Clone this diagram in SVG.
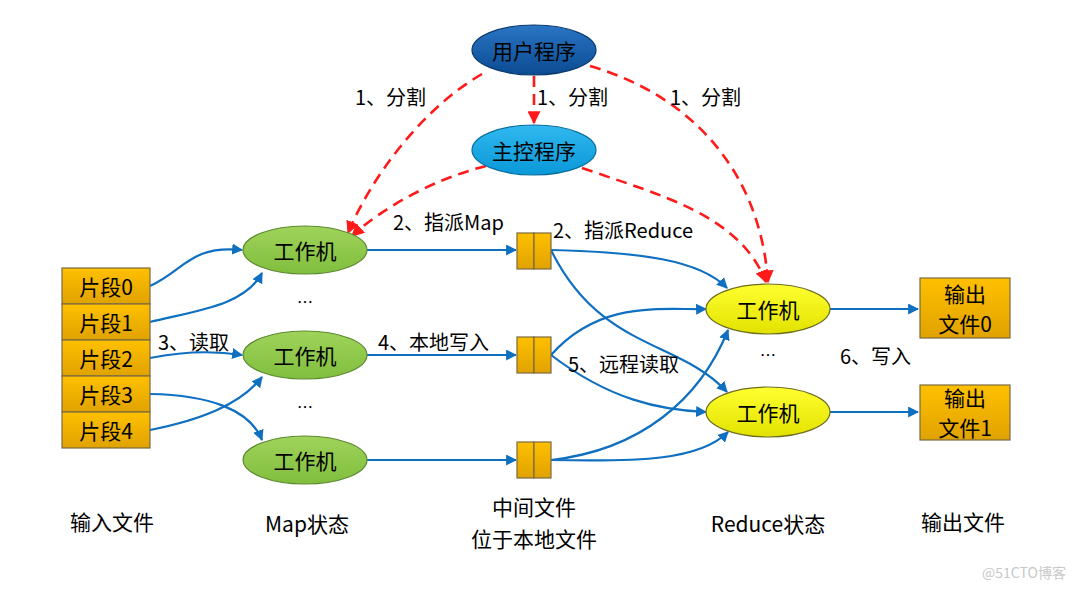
<svg xmlns="http://www.w3.org/2000/svg" width="1082" height="590" viewBox="0 0 1082 590">
<style>
text{font-family:"Noto Sans CJK SC","Liberation Sans",sans-serif;fill:#000}
.n{font-size:21px;text-anchor:middle;dominant-baseline:central}
.l{font-size:20px}
.c{font-size:21px;text-anchor:middle}
.d{font-size:16px;text-anchor:middle}
.box{fill:url(#gOr);stroke:#7a6a40;stroke-width:1.2}
.blue{fill:none;stroke:#0f6fc0;stroke-width:2.2;marker-end:url(#aB)}
.red{fill:none;stroke:#ff1a1a;stroke-width:2.6;stroke-dasharray:11 7;marker-end:url(#aR)}
</style>
<defs>
<linearGradient id="gOr" x1="0" y1="0" x2="0" y2="1"><stop offset="0" stop-color="#ffc000"/><stop offset="1" stop-color="#e0a200"/></linearGradient>
<linearGradient id="gGr" x1="0" y1="0" x2="0" y2="1"><stop offset="0" stop-color="#9fd35a"/><stop offset="1" stop-color="#80be3e"/></linearGradient>
<linearGradient id="gYe" x1="0" y1="0" x2="0" y2="1"><stop offset="0" stop-color="#ffff30"/><stop offset="1" stop-color="#e2e200"/></linearGradient>
<linearGradient id="gDb" x1="0" y1="0" x2="0" y2="1"><stop offset="0" stop-color="#2a75c4"/><stop offset="1" stop-color="#0b4b92"/></linearGradient>
<linearGradient id="gLb" x1="0" y1="0" x2="0" y2="1"><stop offset="0" stop-color="#30b8ef"/><stop offset="1" stop-color="#0a98d8"/></linearGradient>
<marker id="aB" viewBox="0 0 10 10" refX="9" refY="5" markerWidth="5" markerHeight="5" orient="auto-start-reverse" markerUnits="strokeWidth"><path d="M0,0 L10,5 L0,10 z" fill="#0f6fc0"/></marker>
<marker id="aR" viewBox="0 0 10 10" refX="9" refY="5" markerWidth="5" markerHeight="5" orient="auto" markerUnits="strokeWidth"><path d="M0,0 L10,5 L0,10 z" fill="#ff1a1a"/></marker>
</defs>

<g id="connectors">
<path class="red" d="M482,74 C420,110 370,180 348,233"/>
<path class="red" d="M534,76 L534,123"/>
<path class="red" d="M590,66 C690,95 760,170 768,282"/>
<path class="red" d="M486,166 C430,180 380,210 352,236"/>
<path class="red" d="M582,168 C660,195 740,215 766,282"/>
<path class="blue" d="M150,286 C185,270 190,245 242,250"/>
<path class="blue" d="M150,322 C200,310 245,305 262,273"/>
<path class="blue" d="M150,358 C180,352 210,350 242,355"/>
<path class="blue" d="M150,394 C210,395 250,410 262,440"/>
<path class="blue" d="M150,430 C200,420 240,405 262,377"/>
<path class="blue" d="M367,250 L516,250"/>
<path class="blue" d="M367,355 L516,355"/>
<path class="blue" d="M367,460 L516,460"/>
<path class="blue" d="M551,250 C640,252 700,260 727,288"/>
<path class="blue" d="M551,250 C600,350 680,340 727,392"/>
<path class="blue" d="M551,355 C600,300 660,310 706,309"/>
<path class="blue" d="M551,355 C610,400 660,410 706,412"/>
<path class="blue" d="M551,460 C640,450 700,400 728,330"/>
<path class="blue" d="M551,460 C640,462 700,460 728,432"/>
<path class="blue" d="M830,309 L918,309"/>
<path class="blue" d="M830,412 L918,412"/>
</g>

<g id="user"><ellipse cx="534" cy="50" rx="62" ry="25" fill="url(#gDb)" stroke="#0a3a70" stroke-width="1.2"/><text class="n" x="534" y="50">用户程序</text></g>
<g id="master"><ellipse cx="534" cy="150" rx="62" ry="25" fill="url(#gLb)" stroke="#0a6e9e" stroke-width="1.2"/><text class="n" x="534" y="150">主控程序</text></g>

<g id="frags">
<rect class="box" x="62" y="268" width="88" height="36"/><text class="n" x="106" y="286">片段0</text>
<rect class="box" x="62" y="304" width="88" height="36"/><text class="n" x="106" y="322">片段1</text>
<rect class="box" x="62" y="340" width="88" height="36"/><text class="n" x="106" y="358">片段2</text>
<rect class="box" x="62" y="376" width="88" height="36"/><text class="n" x="106" y="394">片段3</text>
<rect class="box" x="62" y="412" width="88" height="36"/><text class="n" x="106" y="430">片段4</text>
</g>

<g id="map1"><ellipse cx="305" cy="250" rx="62" ry="24" fill="url(#gGr)" stroke="#5d8a30" stroke-width="1.2"/><text class="n" x="305" y="250">工作机</text></g>
<g id="map2"><ellipse cx="305" cy="355" rx="62" ry="24" fill="url(#gGr)" stroke="#5d8a30" stroke-width="1.2"/><text class="n" x="305" y="355">工作机</text></g>
<g id="map3"><ellipse cx="305" cy="460" rx="62" ry="24" fill="url(#gGr)" stroke="#5d8a30" stroke-width="1.2"/><text class="n" x="305" y="460">工作机</text></g>

<g id="file1"><rect class="box" x="517" y="233" width="17" height="36"/><rect class="box" x="534" y="233" width="17" height="36"/></g>
<g id="file2"><rect class="box" x="517" y="337" width="17" height="36"/><rect class="box" x="534" y="337" width="17" height="36"/></g>
<g id="file3"><rect class="box" x="517" y="442" width="17" height="36"/><rect class="box" x="534" y="442" width="17" height="36"/></g>

<g id="red1"><ellipse cx="768" cy="309" rx="62" ry="25" fill="url(#gYe)" stroke="#6e6e20" stroke-width="1.2"/><text class="n" x="768" y="309">工作机</text></g>
<g id="red2"><ellipse cx="768" cy="412" rx="62" ry="25" fill="url(#gYe)" stroke="#6e6e20" stroke-width="1.2"/><text class="n" x="768" y="412">工作机</text></g>

<g id="out0"><rect class="box" x="920" y="278" width="90" height="60"/><text class="n" x="965" y="293">输出</text><text class="n" x="965" y="323">文件0</text></g>
<g id="out1"><rect class="box" x="920" y="385" width="90" height="55"/><text class="n" x="965" y="397">输出</text><text class="n" x="965" y="427">文件1</text></g>

<g id="labels">
<text class="l" x="355" y="105">1、分割</text>
<text class="l" x="537" y="105">1、分割</text>
<text class="l" x="670" y="105">1、分割</text>
<text class="l" x="393" y="230">2、指派Map</text>
<text class="l" x="553" y="238">2、指派Reduce</text>
<text class="l" x="158" y="350">3、读取</text>
<text class="l" x="378" y="350">4、本地写入</text>
<text class="l" x="568" y="372">5、远程读取</text>
<text class="l" x="840" y="364">6、写入</text>
<text class="d" x="305" y="308">…</text>
<text class="d" x="305" y="413">…</text>
<text class="d" x="768" y="361">…</text>
<text class="c" x="112" y="530">输入文件</text>
<text class="c" x="307" y="532">Map状态</text>
<text class="c" x="534" y="515">中间文件</text>
<text class="c" x="534" y="547">位于本地文件</text>
<text class="c" x="768" y="532">Reduce状态</text>
<text class="c" x="963" y="530">输出文件</text>
<text x="1024" y="578" style="font-size:14px;fill:#c8c8c8;text-anchor:middle">@51CTO博客</text>
</g>
</svg>
